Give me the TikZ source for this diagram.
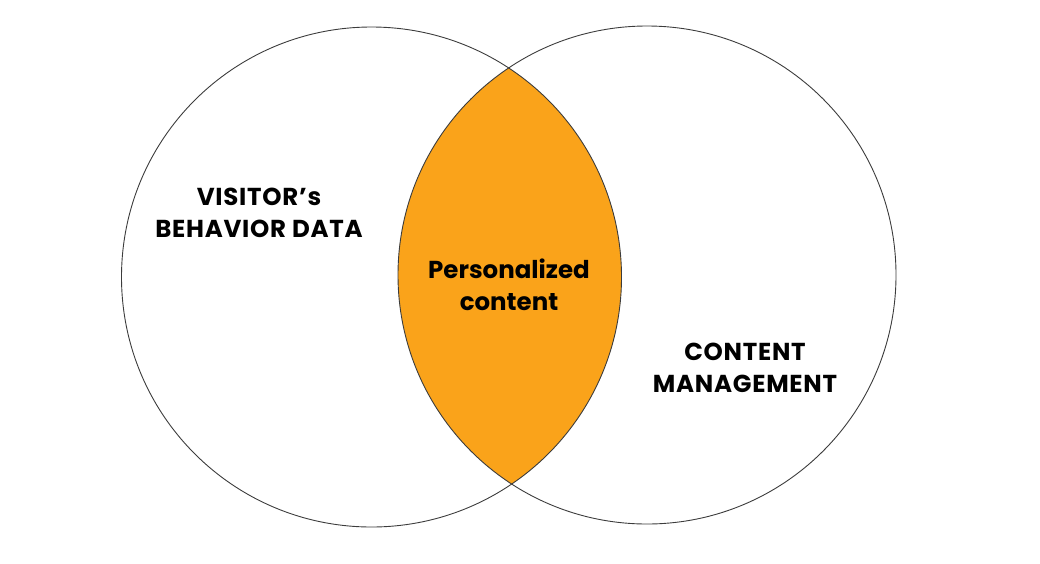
\documentclass[tikz,border=0pt]{standalone}
\usepackage{fontspec}
\setmainfont{Poppins}
\usetikzlibrary{positioning}
\definecolor{LensOrange}{RGB}{250,163,26}
\definecolor{RingGray}{RGB}{60,60,60}

\begin{document}
\begin{tikzpicture}[x=1pt,y=-1pt,font=\bfseries\fontsize{24.5}{32.5}\selectfont,
  ring/.style={draw=RingGray,line width=.9pt},
  label/.style={align=center,inner sep=0pt},
  caps/.style={label,font=\bfseries\fontsize{24.5}{32.5}\selectfont\addfontfeature{LetterSpace=3}}]
\useasboundingbox (0,0) rectangle (1040,563);
% overlap of the two sets
\begin{scope}
\clip (371.5,277) circle[radius=250pt];
\fill[LensOrange] (647,275) circle[radius=249pt];
\end{scope}
\draw[ring] (371.5,277) circle[radius=250pt];
\draw[ring] (647,275) circle[radius=249pt];
\node[caps] (visitor) at (259,213) {VISITOR’s\\BEHAVIOR DATA};
\node[label] (perso) at (509,285) {Personalized\\content};
\node[caps] (content) at (745,368) {CONTENT\\MANAGEMENT};
\end{tikzpicture}
\end{document}
